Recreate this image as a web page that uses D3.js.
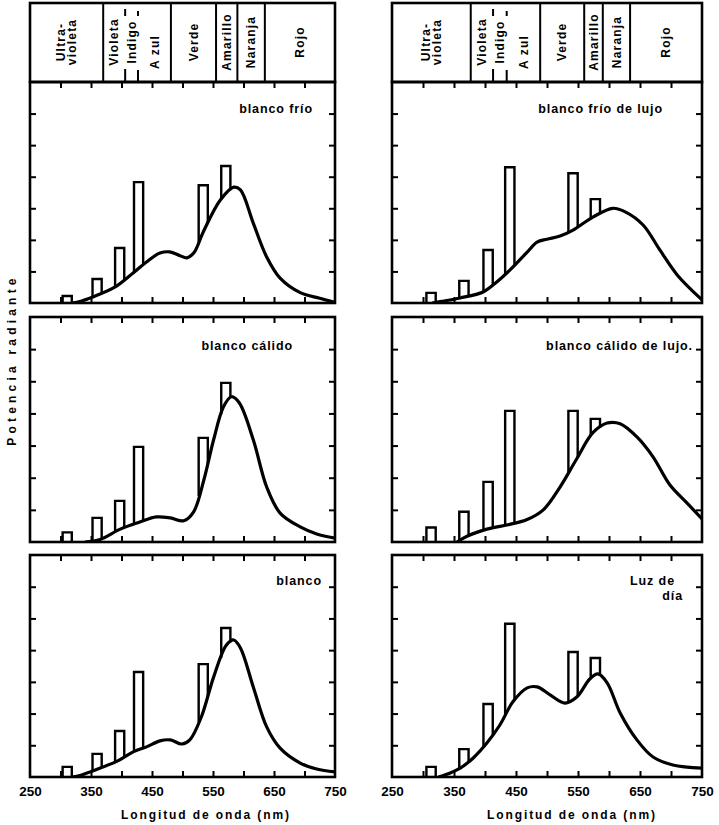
<!DOCTYPE html>
<html>
<head>
<meta charset="utf-8">
<script src="https://cdn.jsdelivr.net/npm/d3@7"></script>
<style>body{margin:0;background:#fff}</style>
</head>
<body>
<div id="container"></div>
<script>
// tick labels of the wavelength axis (nm)
const tickLabelsNm = [250, 350, 450, 550, 650, 750];
const minorTicksNm = [300, 350, 400, 450, 500, 550, 600, 650, 700];
const powerTicks = [1, 2, 3, 4, 5, 6];

// colour bands across the top
const bandNames = [["Ultra-", "violeta"], ["Violeta"], ["Indigo"], ["A zul"], ["Verde"], ["Amarillo"], ["Naranja"], ["Rojo"]];
const bandEdgesLeft = [250, 370, 406, 427, 481, 555, 590, 635, 750];
const bandEdgesRight = [250, 377, 413, 435, 489, 560, 590, 634, 750];

// mercury lines (nm) as drawn in each column
const lineNmLeft = [311, 360, 397, 428, 534, 571];
const lineNmRight = [313, 366, 405, 440, 542, 578];

// bar tops (relative radiant power)
const barsFrio = [0.22, 0.76, 1.74, 3.83, 3.73, 4.34];
const barsCalido = [0.3, 0.75, 1.28, 2.96, 3.24, 4.95];
const barsBlanco = [0.32, 0.73, 1.45, 3.31, 3.56, 4.7];
const barsFrioLujo = [0.32, 0.7, 1.68, 4.3, 4.11, 3.29];
const barsCalidoLujo = [0.45, 0.94, 1.87, 4.08, 4.08, 3.83];
const barsLuzDia = [0.32, 0.88, 2.3, 4.83, 3.94, 3.75];

// continuous spectra [nm, power]
const curveFrio = [[318,0],[330,0.04],[354,0.2],[389,0.5],[419,0.95],[441,1.3],[463,1.58],[479,1.62],[496,1.5],[507,1.43],[519,1.6],[534,2.25],[562,3.26],[584,3.67],[595,3.58],[616,2.53],[638,1.46],[660,0.79],[693,0.33],[725,0.15],[750,0.02]];
const curveCalido = [[340,0],[365,0.08],[398,0.4],[430,0.62],[457,0.78],[480,0.75],[502,0.66],[518,0.93],[535,1.93],[551,3.18],[567,4.2],[580,4.52],[593,4.33],[616,3.18],[638,1.71],[660,0.9],[693,0.47],[720,0.25],[750,0.12]];
const curveBlanco = [[318,0],[330,0.04],[354,0.2],[393,0.5],[420,0.8],[441,0.95],[463,1.14],[480,1.17],[499,1.04],[512,1.17],[531,1.9],[551,3.15],[572,4.16],[584,4.32],[595,4.07],[616,2.84],[638,1.58],[660,0.91],[693,0.44],[720,0.25],[750,0.16]];
const curveFrioLujo = [[315,0],[330,0.05],[360,0.16],[397,0.35],[413,0.57],[440,1.04],[468,1.61],[484,1.93],[500,2.02],[521,2.12],[542,2.31],[574,2.72],[606,3.0],[627,2.88],[655,2.47],[682,1.68],[710,0.89],[750,0.1]];
const curveCalidoLujo = [[355,0],[371,0.18],[403,0.4],[440,0.55],[468,0.7],[494,1.0],[521,1.71],[548,2.59],[574,3.4],[597,3.7],[618,3.68],[645,3.27],[671,2.65],[698,1.78],[726,1.21],[750,0.72]];
const curveLuzDia = [[325,0],[335,0.06],[360,0.28],[381,0.6],[403,1.07],[424,1.64],[445,2.37],[468,2.81],[484,2.84],[505,2.59],[529,2.33],[548,2.52],[569,3.09],[582,3.25],[597,2.97],[618,2.02],[645,1.17],[671,0.63],[703,0.38],[750,0.28]];

const titles = [["blanco frío"], ["blanco cálido"], ["blanco"], ["blanco frío de lujo"], ["blanco cálido de lujo."], ["Luz de", "día"]];

const W = 719, H = 825;
const rows = [[82, 303], [317, 542], [555, 777]];
const bandTop = 3, bandBottom = 82;
const titleInset = [22, 42, 13, 39, 9, 27];
const titleDrop = [31, 33, 30, 31, 33, 30];
const barWidthNm = 15;
const FONT = '"Liberation Sans", Arial, sans-serif';

const svg = d3.select('#container').append('svg')
    .attr('width', W).attr('height', H)
    .style('font-family', FONT)
    .style('font-weight', 'bold');

const columns = [
    { range: [30, 335], edges: bandEdgesLeft, lines: lineNmLeft, label: 206,
      panels: [[barsFrio, curveFrio], [barsCalido, curveCalido], [barsBlanco, curveBlanco]] },
    { range: [392, 702], edges: bandEdgesRight, lines: lineNmRight, label: 572,
      panels: [[barsFrioLujo, curveFrioLujo], [barsCalidoLujo, curveCalidoLujo], [barsLuzDia, curveLuzDia]] }
];

// linear read of a curve at nm (for where a bar sits on it)
const valueAt = (curve, nm) => {
    if (nm <= curve[0][0]) return 0;
    const i = d3.bisector(d => d[0]).left(curve, nm);
    if (i >= curve.length) return curve[curve.length - 1][1];
    const a = curve[i - 1], b = curve[i];
    return a[1] + (b[1] - a[1]) * (nm - a[0]) / (b[0] - a[0]);
};

const drawBands = (g, x, edges) => {
    const [x0, x1] = x.range();
    g.append('rect').attr('x', x0).attr('y', bandTop).attr('width', x1 - x0).attr('height', bandBottom - bandTop)
        .attr('fill', 'none').attr('stroke', '#000').attr('stroke-width', 2.6);
    edges.slice(1, -1).forEach((e, i) => {
        const xe = x(e);
        if (i === 1 || i === 2) {
            // Violeta | Indigo | Azul only partly separated
            g.append('line').attr('x1', xe).attr('x2', xe).attr('y1', 7 + i * 2).attr('y2', 16)
                .attr('stroke', '#000').attr('stroke-width', 2);
            g.append('line').attr('x1', xe).attr('x2', xe).attr('y1', 68 + i).attr('y2', bandBottom)
                .attr('stroke', '#000').attr('stroke-width', 2);
        } else {
            g.append('line').attr('x1', xe).attr('x2', xe).attr('y1', bandTop).attr('y2', bandBottom)
                .attr('stroke', '#000').attr('stroke-width', 2);
        }
    });
    bandNames.forEach((name, i) => {
        const cx = (x(edges[i]) + x(edges[i + 1])) / 2;
        const cy = name[0] === 'A zul' ? 52 : 42;
        const t = g.append('text').attr('transform', `translate(${cx},${cy}) rotate(-90)`)
            .attr('text-anchor', 'middle').attr('font-size', 12).attr('letter-spacing', 1.2)
            .attr('fill', '#000');
        name.forEach((ln, j) => {
            t.append('tspan').attr('x', 0)
                .attr('dy', j === 0 ? `${0.35 - (name.length - 1) * 0.45}em` : '0.9em').text(ln);
        });
    });
};

const drawPanel = (g, x, row, bars, curve, lines, title, k) => {
    const [top, bottom] = row;
    const [x0, x1] = x.range();
    const y = d3.scaleLinear().domain([0, 7]).range([bottom, top]);

    const clipId = 'clip' + k;
    g.append('clipPath').attr('id', clipId).append('rect')
        .attr('x', x0).attr('y', top).attr('width', x1 - x0).attr('height', bottom - top);

    const ticks = (axis, tr) => {
        const a = g.append('g').attr('transform', tr).call(axis);
        a.select('.domain').remove();
        a.selectAll('line').attr('stroke-width', 2);
    };
    ticks(d3.axisBottom(x).tickValues(minorTicksNm).tickSize(-6).tickFormat(''), `translate(0,${bottom})`);
    ticks(d3.axisTop(x).tickValues(minorTicksNm).tickSize(-6).tickFormat(''), `translate(0,${top})`);
    ticks(d3.axisLeft(y).tickValues(powerTicks).tickSize(-6).tickFormat(''), `translate(${x0},0)`);
    ticks(d3.axisRight(y).tickValues(powerTicks).tickSize(-6).tickFormat(''), `translate(${x1},0)`);

    const line = d3.line().x(d => x(d[0])).y(d => y(d[1])).curve(d3.curveCatmullRom.alpha(0.5));
    g.append('path').attr('d', line(curve)).attr('fill', 'none').attr('stroke', '#000')
        .attr('stroke-width', 3.2).attr('clip-path', `url(#${clipId})`);

    bars.forEach((h, i) => {
        const nmL = lines[i] - barWidthNm / 2, nmR = lines[i] + barWidthNm / 2;
        const p = d3.path();
        p.moveTo(x(nmL), y(valueAt(curve, nmL)));
        p.lineTo(x(nmL), y(h));
        p.lineTo(x(nmR), y(h));
        p.lineTo(x(nmR), y(valueAt(curve, nmR)));
        g.append('path').attr('d', p.toString()).attr('fill', 'none').attr('stroke', '#000')
            .attr('stroke-width', 2.4);
    });

    g.append('rect').attr('x', x0).attr('y', top).attr('width', x1 - x0).attr('height', bottom - top)
        .attr('fill', 'none').attr('stroke', '#000').attr('stroke-width', 2.6);

    const tt = g.append('text').attr('text-anchor', 'end').attr('font-size', 12.5)
        .attr('letter-spacing', 0.9).attr('fill', '#000');
    title.forEach((ln, j) => {
        tt.append('tspan').attr('x', x1 - titleInset[k] + j * 8).attr('y', top + titleDrop[k] + j * 15).text(ln);
    });
};

columns.forEach((col, c) => {
    const x = d3.scaleLinear().domain([250, 750]).range(col.range);
    const g = svg.append('g');
    drawBands(g, x, col.edges);
    col.panels.forEach(([bars, curve], r) => {
        drawPanel(g, x, rows[r], bars, curve, col.lines, titles[c * 3 + r], c * 3 + r);
    });
    const ax = g.append('g').attr('transform', `translate(0,${rows[2][1]})`)
        .call(d3.axisBottom(x).tickValues(tickLabelsNm).tickSize(0).tickPadding(9).tickFormat(d3.format('d')));
    ax.select('.domain').remove();
    ax.selectAll('text').attr('font-size', 13.5).attr('font-family', FONT)
        .attr('font-weight', 'bold').attr('fill', '#000');
    g.append('text').attr('x', col.label).attr('y', 819).attr('text-anchor', 'middle')
        .attr('font-size', 12).attr('letter-spacing', 1.9).attr('fill', '#000').text('Longitud de onda (nm)');
});

svg.append('text').attr('transform', 'translate(16,360) rotate(-90)').attr('text-anchor', 'middle')
    .attr('font-size', 12).attr('letter-spacing', 4.2).attr('fill', '#000').text('Potencia radiante');
</script>
</body>
</html>
